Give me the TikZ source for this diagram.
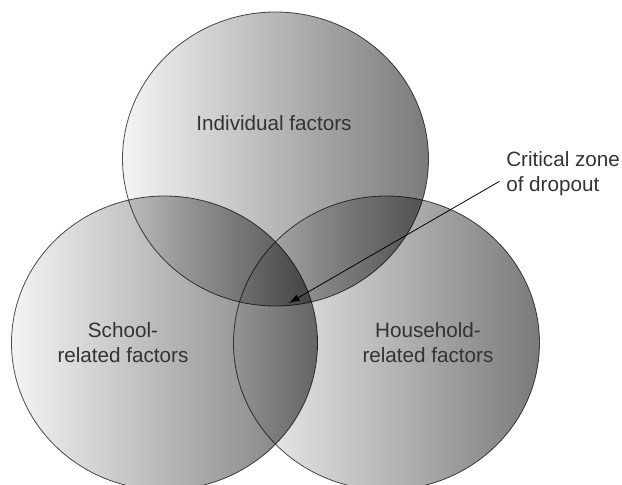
\documentclass[tikz,border=0pt]{standalone}
\usepackage{fontspec}
\setmainfont{Liberation Sans}
\usepackage{xcolor}
\definecolor{vennLight}{HTML}{F4F4F4}
\definecolor{vennDark}{HTML}{7A7A7A}
\definecolor{rimGray}{HTML}{4D4D4D}
\definecolor{labelDark}{HTML}{333333}
\usetikzlibrary{shapes.geometric,arrows.meta,positioning}
\tikzset{%
  factorSet/.style={%
    ellipse,
    draw=rimGray,
    line width=0.6pt,
    left color=vennLight,
    right color=vennDark,
    minimum width=229.5pt,
    minimum height=220.5pt,
    inner sep=0pt
  },
  factorLabel/.style={%
    text=labelDark,
    font=\fontsize{15.5}{18.75}\selectfont,
    align=center,
    inner sep=0pt
  },
  arrowLine/.style={%
    -{Latex[length=2.8mm,width=1.9mm]},
    line width=0.6pt,
    color=black
  }
}

\begin{document}
\begin{tikzpicture}[x=0.75pt,y=-0.75pt]
  \useasboundingbox (0,0) rectangle (622,485);
  \clip (0,0) rectangle (622,485);

  % The three overlapping factor sets
  \begin{scope}[blend mode=multiply]
    \node[factorSet] (individual) at (275.5,159) {};
    \node[factorSet] (school) at (164.5,343) {};
    \node[factorSet] (household) at (386.5,343) {};
  \end{scope}

  % Labels inside the sets
  \node[factorLabel] (individualText) at (274,123.5) {Individual factors};
  \node[factorLabel] (schoolText) at (123,343) {School-\\related factors};
  \node[factorLabel] (householdText) at (428,343) {Household-\\related factors};

  % Critical zone callout
  \node[factorLabel, align=left, anchor=north west] (zone) at (506,151)
    {Critical zone\\of dropout};
  \coordinate (critZone) at (289,303);
  \draw[arrowLine] ([xshift=-5pt,yshift=-6pt]zone.west) -- (critZone);
\end{tikzpicture}
\end{document}
